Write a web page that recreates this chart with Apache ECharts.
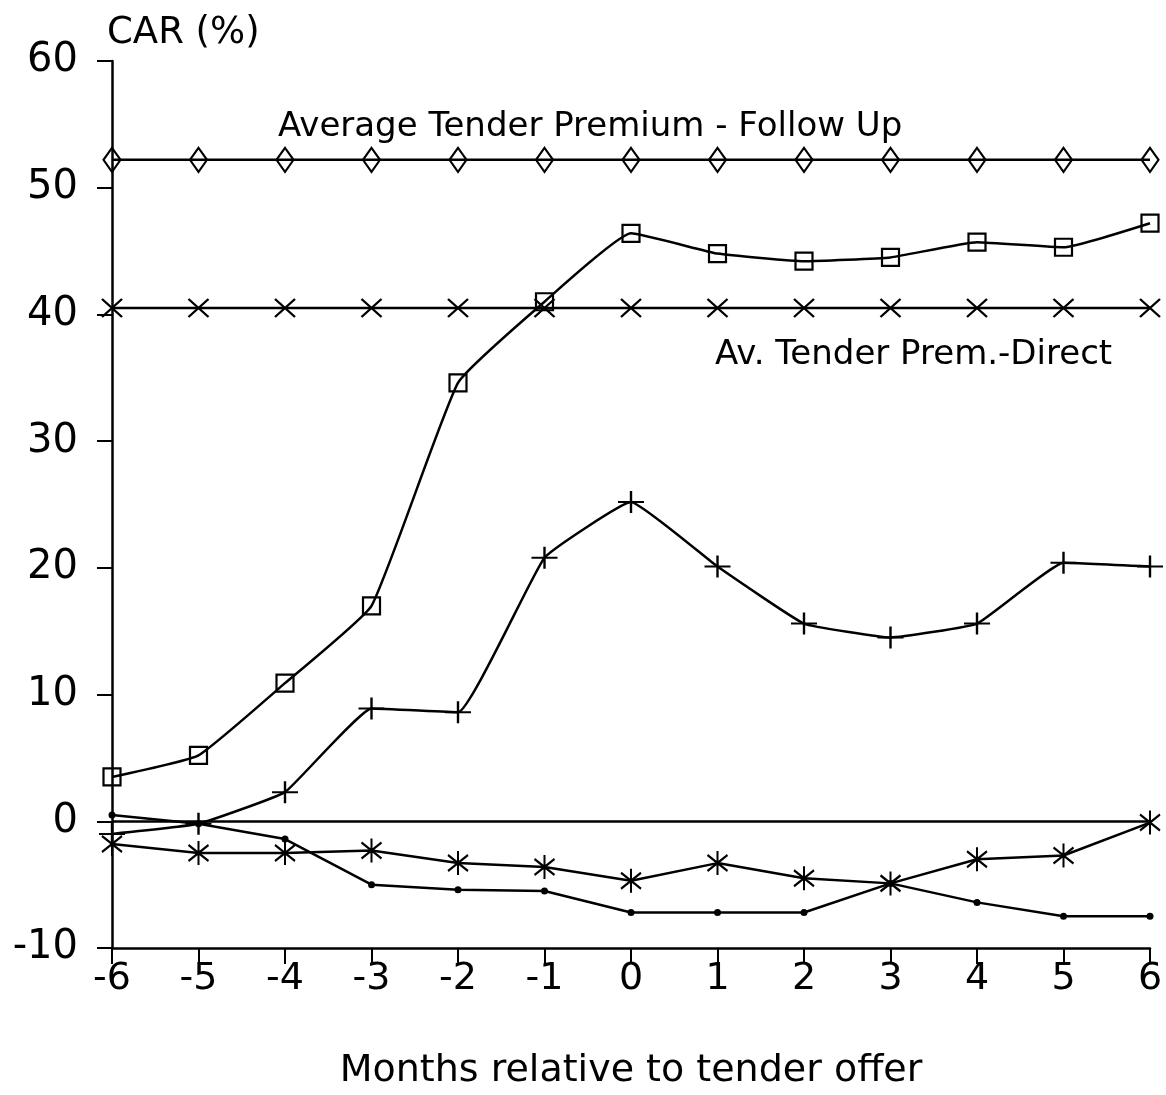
<!DOCTYPE html>
<html>
<head>
<meta charset="utf-8">
<script src="https://cdn.jsdelivr.net/npm/echarts@6/dist/echarts.min.js"></script>
<style>
html,body{margin:0;padding:0;background:#fff;overflow:hidden;}
#chart{width:1166px;height:1095px;}
</style>
</head>
<body>
<div id="chart"></div>
<script>
// ---- data ----
const months = [-6, -5, -4, -3, -2, -1, 0, 1, 2, 3, 4, 5, 6];
const yTicks = [-10, 0, 10, 20, 30, 40, 50, 60];
const premiumFollowUp = [52.2, 52.2, 52.2, 52.2, 52.2, 52.2, 52.2, 52.2, 52.2, 52.2, 52.2, 52.2, 52.2];
const premiumDirect   = [40.5, 40.5, 40.5, 40.5, 40.5, 40.5, 40.5, 40.5, 40.5, 40.5, 40.5, 40.5, 40.5];
const carSquares  = [3.5, 5.2, 10.9, 17.0, 34.6, 41.0, 46.4, 44.8, 44.2, 44.5, 45.7, 45.3, 47.2];
const carPlus     = [-1.0, -0.2, 2.3, 8.9, 8.6, 20.8, 25.2, 20.1, 15.6, 14.5, 15.6, 20.4, 20.1];
const carAsterisk = [-1.8, -2.5, -2.5, -2.3, -3.3, -3.6, -4.7, -3.3, -4.5, -4.9, -3.0, -2.7, -0.1];
const carDots     = [0.5, -0.2, -1.4, -5.0, -5.4, -5.5, -7.2, -7.2, -7.2, -4.9, -6.4, -7.5, -7.5];
const zeroLine = 0;

const labelFollowUp = 'Average Tender Premium - Follow Up';
const labelDirect = 'Av. Tender Prem.-Direct';
const yTitle = 'CAR (%)';
const xTitle = 'Months relative to tender offer';

// ---- chart ----
const FONT = 'DejaVu Sans';
const pair = arr => months.map((m, i) => [m, arr[i]]);

const SYM_X = 'path://M0,0 L10,10 M10,0 L0,10';
const SYM_PLUS = 'path://M0,5 L12,5 M6,0 L6,10';
const SYM_AST = 'path://M5,0 L5,12 M0,2 L10,10 M10,2 L0,10';

function lineSeries(name, arr, symbol, size, smooth, filled) {
  return {
    name: name,
    type: 'line',
    data: pair(arr),
    symbol: symbol,
    symbolSize: size,
    smooth: smooth,
    showSymbol: true,
    animation: false,
    lineStyle: { color: '#000', width: 2.5 },
    itemStyle: filled
      ? { color: '#000', borderColor: '#000', borderWidth: 0 }
      : { color: 'rgba(255,255,255,0)', borderColor: '#000', borderWidth: 2.2 },
    z: 3
  };
}

const chart = echarts.init(document.getElementById('chart'), null, { renderer: 'canvas' });

const series = [
  lineSeries('Average Tender Premium - Follow Up', premiumFollowUp, 'diamond', [17, 24], false, false),
  lineSeries('Av. Tender Prem.-Direct', premiumDirect, SYM_X, [20, 18], false, false),
  lineSeries('CAR squares', carSquares, 'rect', [17, 17], 0.12, false),
  lineSeries('CAR plus', carPlus, SYM_PLUS, [26, 22], 0.1, false),
  lineSeries('CAR asterisk', carAsterisk, SYM_AST, [20, 24], false, false),
  lineSeries('CAR dots', carDots, 'circle', 7, false, true)
];
series[0].markLine = {
  silent: true,
  symbol: 'none',
  label: { show: false },
  lineStyle: { color: '#000', width: 2.5, type: 'solid' },
  data: [{ yAxis: zeroLine }],
  animation: false
};

chart.setOption({
  backgroundColor: '#fff',
  animation: false,
  grid: { left: 112, width: 1038, top: 61, height: 898, containLabel: false },
  textStyle: { fontFamily: FONT, color: '#000' },
  xAxis: {
    type: 'value',
    min: months[0],
    max: months[months.length - 1],
    interval: 1,
    name: xTitle,
    nameLocation: 'middle',
    nameGap: 104,
    nameTextStyle: { fontFamily: FONT, fontSize: 38, color: '#000' },
    axisLine: { onZero: false, lineStyle: { color: '#000', width: 2.5 } },
    axisTick: { show: true, inside: false, length: 16, lineStyle: { color: '#000', width: 2 } },
    axisLabel: { fontFamily: FONT, fontSize: 38, color: '#000', margin: 12 },
    splitLine: { show: false }
  },
  yAxis: {
    type: 'value',
    min: yTicks[0],
    max: yTicks[yTicks.length - 1],
    interval: 10,
    axisLine: { show: true, onZero: false, lineStyle: { color: '#000', width: 2.5 } },
    axisTick: { show: true, inside: false, length: 15, lineStyle: { color: '#000', width: 2 } },
    axisLabel: { fontFamily: FONT, fontSize: 40, color: '#000', margin: 34 },
    splitLine: { show: false }
  },
  graphic: [
    { type: 'text', left: 107, top: 15, silent: true,
      style: { text: yTitle, font: '37px "' + FONT + '"', fill: '#000' } },
    { type: 'text', left: 278, top: 110, silent: true,
      style: { text: labelFollowUp, font: '34px "' + FONT + '"', fill: '#000' } },
    { type: 'text', left: 715, top: 338, silent: true,
      style: { text: labelDirect, font: '34px "' + FONT + '"', fill: '#000' } }
  ],
  series: series
});
</script>
</body>
</html>
